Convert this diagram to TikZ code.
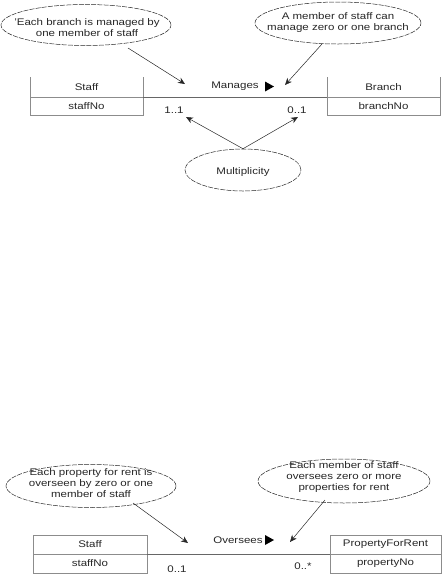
\documentclass[tikz,border=0pt]{standalone}
\usepackage{fontspec}
\setmainfont{Liberation Sans}[FakeStretch=1.2]
\usetikzlibrary{arrows.meta,shapes.geometric,calc}
\begin{document}
\begin{tikzpicture}[x=1pt,y=-1pt,
  every node/.style={font=\fontsize{9.6}{10.6}\selectfont, inner sep=0pt, text=black!85},
  note/.style={ellipse, draw=black!85, dash pattern=on 5pt off 1.2pt, line width=0.5pt},
  notetext/.style={align=center},
  cell/.style={minimum height=19},
  boxline/.style={draw=black!45, line width=0.6pt},
  assoc/.style={draw=black!60, line width=0.6pt},
  ptr/.style={draw=black!85, line width=0.5pt, -{Stealth[length=7pt,width=6pt]}},
  tri/.style={fill=black}]
\useasboundingbox (0,0) rectangle (444,574);

% ---------------- top diagram ----------------
\node[note, minimum width=170, minimum height=41] (e1) at (86,25) {};
\node[notetext] (t1) at (87,27.5) {'Each branch is managed by\\one member of staff};
\node[note, minimum width=166, minimum height=42] (e2) at (338,23) {};
\node[notetext] (t2) at (338,22.5) {A member of staff can\\manage zero or one branch};

\node[cell] (s1) at (86.5,87) {Staff};
\node[cell] (s1n) at (86.5,106) {staffNo};
\coordinate (s1tl) at (30,77); \coordinate (s1tr) at (143,77);
\coordinate (s1ml) at (30,97); \coordinate (s1mr) at (143,97);
\coordinate (s1bl) at (30,115); \coordinate (s1br) at (143,115);
\draw[boxline] (s1tl) -- (s1bl) -- (s1br) -- (s1tr);
\draw[boxline] (s1ml) -- (s1mr);

\node[cell] (b1) at (383.5,87) {Branch};
\node[cell] (b1n) at (383.5,106) {branchNo};
\coordinate (b1tl) at (327,77); \coordinate (b1tr) at (440,77);
\coordinate (b1ml) at (327,97); \coordinate (b1mr) at (440,97);
\coordinate (b1bl) at (327,115); \coordinate (b1br) at (440,115);
\draw[boxline] (b1tl) -- (b1bl) -- (b1br) -- (b1tr);
\draw[boxline] (b1ml) -- (b1mr);

\draw[assoc] (s1mr) -- (b1ml);

\node (mg) at (235,86.5) {Manages};
\fill[tri] (265,81.5) -- (274,86.5) -- (265,91.5) -- cycle;

\coordinate (a1s) at (128,48); \coordinate (a1e) at (185,84);
\coordinate (a2s) at (322,44); \coordinate (a2e) at (285,85);
\draw[ptr] (a1s) -- (a1e);
\draw[ptr] (a2s) -- (a2e);

\node (m11) at (174,110) {1..1};
\node (m01) at (297,110) {0..1};

\node[note, minimum width=116, minimum height=42] (mu) at (243,170) {};
\node (mut) at (243,172) {Multiplicity};
\coordinate (p1) at (186,117); \coordinate (p2) at (298,117);
\draw[ptr] (mu.north) -- (p1);
\draw[ptr] (mu.north) -- (p2);

% ---------------- bottom diagram ----------------
\node[note, minimum width=170, minimum height=43] (e3) at (91,486) {};
\node[notetext] (t3) at (91,483) {Each property for rent is\\overseen by zero or one\\member of staff};
\node[note, minimum width=172, minimum height=44] (e4) at (344,481) {};
\node[notetext] (t4) at (344,477) {Each member of staff\\oversees zero or more\\properties for rent};

\node[draw=black!45, line width=0.6pt, minimum width=114, minimum height=19] (s2) at (90,544.5) {Staff};
\node[draw=black!45, line width=0.6pt, minimum width=114, minimum height=19] (s2n) at (90,563.5) {staffNo};
\node[draw=black!45, line width=0.6pt, minimum width=111, minimum height=19] (pr) at (385.5,544.5) {PropertyForRent};
\node[draw=black!45, line width=0.6pt, minimum width=111, minimum height=19] (prn) at (385.5,563.5) {propertyNo};

\draw[assoc] (s2.south east) -- (pr.south west);

\node (ov) at (238,540) {Oversees};
\fill[tri] (265,535) -- (274,540) -- (265,545) -- cycle;

\coordinate (a3s) at (133,503); \coordinate (a3e) at (188,543);
\coordinate (a4s) at (325,500); \coordinate (a4e) at (290,542);
\draw[ptr] (a3s) -- (a3e);
\draw[ptr] (a4s) -- (a4e);

\node (m2a) at (177,569.5) {0..1};
\node (m2b) at (303,566.5) {0..*};
\end{tikzpicture}
\end{document}
